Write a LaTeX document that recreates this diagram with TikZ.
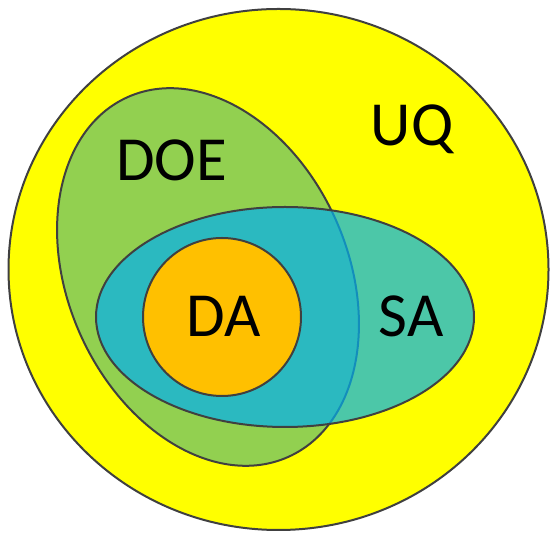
\documentclass[tikz,border=0pt]{standalone}
\usepackage{fontspec}
\setmainfont{Carlito}
\definecolor{uqyellow}{HTML}{FFFF00}
\definecolor{doegreen}{HTML}{92D050}
\definecolor{sablue}{HTML}{00B0F0}
\definecolor{daorange}{HTML}{FFC000}
\definecolor{outline}{HTML}{404040}
\begin{document}
\begin{tikzpicture}[x=1bp,y=1bp,
  setshape/.style={draw=outline,line width=2bp},
  lbl/.style={font=\fontsize{63}{63}\selectfont,anchor=base,inner sep=0pt}]
\useasboundingbox (0,0) rectangle (557,538);
\fill[white] (0,0) rectangle (557,538);
\draw[setshape,fill=uqyellow] (278.5,268.5) ellipse [x radius=270, y radius=260.5];
\draw[setshape,fill=doegreen,rotate around={24:(208,261)}] (208,261) ellipse [x radius=140, y radius=197];
\draw[setshape,fill=sablue,fill opacity=0.7] (285,221) ellipse [x radius=189, y radius=110];
\draw[setshape,fill=daorange] (222,221) circle [radius=79];
\node[lbl] (uq) at (412,392) {UQ};
\node[lbl] (doe) at (171.5,357) {DOE};
\node[lbl] (da) at (224,201) {DA};
\node[lbl] (sa) at (411,201) {SA};
\end{tikzpicture}
\end{document}
